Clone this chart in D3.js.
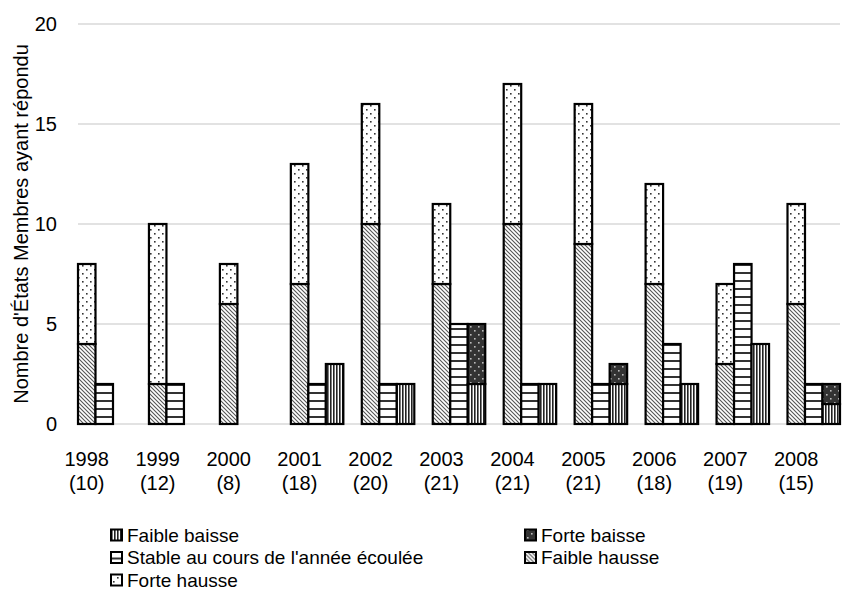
<!DOCTYPE html>
<html><head><meta charset="utf-8">
<script src="https://cdn.jsdelivr.net/npm/d3@7"></script>
<style>body{margin:0;background:#fff}svg{display:block;font-family:"Liberation Sans",Arial,sans-serif}</style>
</head><body><svg id="c" width="847" height="590"></svg>
<script>
const years = ["1998","1999","2000","2001","2002","2003","2004","2005","2006","2007","2008"];
const counts = ["(10)","(12)","(8)","(18)","(20)","(21)","(21)","(21)","(18)","(19)","(15)"];
const faibleHausse = [4,2,6,7,10,7,10,9,7,3,6];
const forteHausse  = [4,8,2,6,6,4,7,7,5,4,5];
const stable       = [2,2,0,2,2,5,2,2,4,8,2];
const faibleBaisse = [0,0,0,3,2,2,2,2,2,4,1];
const forteBaisse  = [0,0,0,0,0,3,0,1,0,0,1];
const yTicks = [0,5,10,15,20];
const legendItems = ["Faible baisse","Forte baisse","Stable au cours de l'année écoulée","Faible hausse","Forte hausse"];

const svg = d3.select("#c");
const defs = svg.append("defs");
function pat(id,w,h,bg,draw){
  const p = defs.append("pattern").attr("id",id).attr("patternUnits","userSpaceOnUse").attr("width",w).attr("height",h);
  p.append("rect").attr("width",w).attr("height",h).attr("fill",bg);
  draw(p);
}
pat("pDiag",4,4,"#fff",p=>{
  p.append("path").attr("d","M-1,-1 L5,5 M-1,3 L1,5 M3,-1 L5,1").attr("stroke","#555").attr("stroke-width",1.1);
});
pat("pDots",8,8,"#fff",p=>{
  p.append("rect").attr("x",2).attr("y",1).attr("width",1.6).attr("height",1.6).attr("fill","#333");
  p.append("rect").attr("x",6).attr("y",5).attr("width",1.6).attr("height",1.6).attr("fill","#333");
});
pat("pHoriz",8,8,"#fff",p=>{
  p.append("rect").attr("x",0).attr("y",0).attr("width",8).attr("height",2).attr("fill","#333");
});
pat("pVert",3,8,"#fff",p=>{
  p.append("rect").attr("x",0).attr("y",0).attr("width",1.6).attr("height",8).attr("fill","#222");
});
pat("pDark",8,8,"#333",p=>{
  p.append("rect").attr("x",2).attr("y",2).attr("width",1.6).attr("height",1.6).attr("fill","#bbb");
  p.append("rect").attr("x",6).attr("y",6).attr("width",1.6).attr("height",1.6).attr("fill","#bbb");
});

const mLeft = 78, mRight = 840, mTop = 24, mBottom = 424;
const x = d3.scaleBand().domain(years).range([mLeft,mRight]).paddingInner(0.26).paddingOuter(0);
const sub = d3.scaleBand().domain(["h","s","b"]).range([0,x.bandwidth()]);
const y = d3.scaleLinear().domain([0,20]).range([mBottom,mTop]);

// gridlines
svg.append("g").selectAll("line").data(yTicks).join("line")
  .attr("x1",mLeft).attr("x2",mRight).attr("y1",d=>y(d)).attr("y2",d=>y(d))
  .attr("stroke","#d9d9d9").attr("stroke-width",1.3);

// y axis
const yAxis = d3.axisLeft(y).tickValues(yTicks).tickSize(0).tickPadding(0);
const yg = svg.append("g").attr("transform",`translate(${mLeft-21},0)`).call(yAxis);
yg.select(".domain").remove();
yg.selectAll("text").attr("font-size",20).attr("fill","#000").attr("font-family","Liberation Sans, Arial, sans-serif");

svg.append("text").attr("transform",`translate(28,${(mTop+mBottom)/2}) rotate(-90)`)
  .attr("text-anchor","middle").attr("font-size",20).attr("fill","#000")
  .text("Nombre d'États Membres ayant répondu");

// bars
const segs = [];
years.forEach((yr,i)=>{
  const add=(slot,y0,v,fill)=>{ if(v>0) segs.push({yr,slot,y0,y1:y0+v,fill}); };
  add("h",0,faibleHausse[i],"url(#pDiag)");
  add("h",faibleHausse[i],forteHausse[i],"url(#pDots)");
  add("s",0,stable[i],"url(#pHoriz)");
  add("b",0,faibleBaisse[i],"url(#pVert)");
  add("b",faibleBaisse[i],forteBaisse[i],"url(#pDark)");
});
svg.append("g").selectAll("rect").data(segs).join("rect")
  .attr("x",d=>x(d.yr)+sub(d.slot)).attr("width",sub.bandwidth())
  .attr("y",d=>y(d.y1)).attr("height",d=>y(d.y0)-y(d.y1))
  .attr("fill",d=>d.fill).attr("stroke","#000").attr("stroke-width",2.2);

// x labels
const xl = svg.append("g").selectAll("text").data(years).join("text")
  .attr("text-anchor","middle").attr("font-size",20).attr("fill","#000");
xl.append("tspan").attr("x",d=>x(d)+sub.bandwidth()/2).attr("y",466).text(d=>d);
xl.append("tspan").attr("x",d=>x(d)+sub.bandwidth()/2).attr("y",490).text((d,i)=>counts[i]);

// legend
const legFills = ["url(#pVert)","url(#pDark)","url(#pHoriz)","url(#pDiag)","url(#pDots)"];
const lg = svg.append("g").selectAll("g").data(legendItems).join("g")
  .attr("transform",(d,i)=>`translate(${i%2===0?111:525},${535+Math.floor(i/2)*22.5})`);
lg.append("rect").attr("x",0).attr("y",-5.5).attr("width",11).attr("height",11)
  .attr("fill",(d,i)=>legFills[i]).attr("stroke","#000").attr("stroke-width",2);
lg.append("text").attr("x",16).attr("y",0).attr("dy","0.35em").attr("font-size",19).attr("fill","#000").text(d=>d);
</script></body></html>
